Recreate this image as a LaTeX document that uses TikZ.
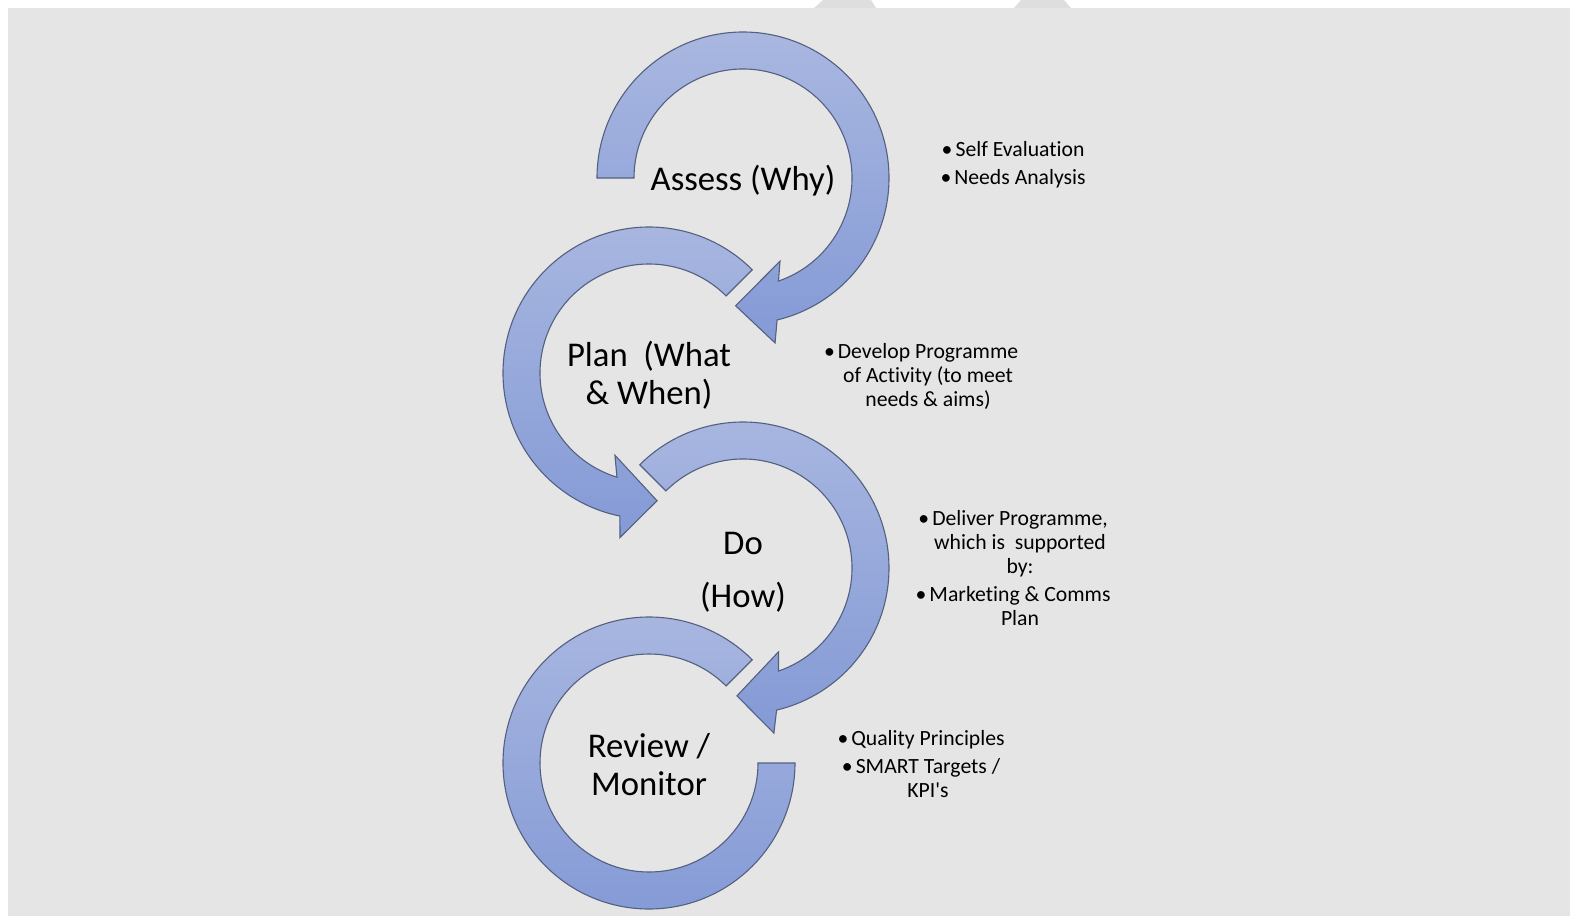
\documentclass[tikz,border=0pt]{standalone}
\usepackage{fontspec}
\setmainfont{Carlito}[Ligatures={NoCommon,TeXOff}]
\definecolor{pagegray}{RGB}{229,229,229}
\definecolor{tabgray}{RGB}{222,222,222}
\definecolor{arrowtop}{RGB}{169,183,224}
\definecolor{arrowbottom}{RGB}{132,154,214}
\definecolor{arrowedge}{RGB}{84,96,128}
\newcommand\itembul{\llap{•\hspace{1.5pt}}}
\begin{document}
\begin{tikzpicture}[x=0.5pt,y=-0.5pt,
  band/.style={draw=arrowedge, line width=0.55pt, line join=miter,
    top color=arrowtop, bottom color=arrowbottom},
  mainlabel/.style={align=center, inner sep=0pt,
    font={\fontsize{17.35}{18.8}\selectfont}},
  notes/.style={align=center, inner sep=0pt,
    font={\fontsize{10.85}{12.0}\selectfont}}]
\useasboundingbox (0,0) rectangle (1570,916);
% page and background panel
\fill[white] (0,0) rectangle (1570,916);
\fill[pagegray] (8,8) rectangle (1570,916);
\fill[tabgray] (814,8) -- (823,0) -- (871,0) -- (876,8) -- cycle;
\fill[tabgray] (1014,8) -- (1021,0) -- (1064,0) -- (1071,8) -- cycle;

% centres of the four rings
\coordinate (c1) at (743,178);
\coordinate (c2) at (649,373);
\coordinate (c3) at (743,568);
\coordinate (c4) at (649,763);

% Assess: clockwise arrow from the left side round to the lower right
\begin{scope}[shift={(c1)}]
\path[band] (180:146) arc[start angle=180,end angle=436.5,radius=146]
  -- (79:168) -- (93.3:128) -- (66:91) -- (71:109)
  arc[start angle=431,end angle=180,radius=109] -- cycle;
\end{scope}

% Plan: anticlockwise arrow from the upper right round to the bottom
\begin{scope}[shift={(c2)}]
\path[band] (-45:146) arc[start angle=-45,end angle=-258.5,radius=146]
  -- (100:167) -- (86.4:128) -- (112.5:89) -- (107.1:109)
  arc[start angle=-252.9,end angle=-45,radius=109] -- cycle;
\end{scope}

% Do: clockwise arrow from the upper left round to the lower right
\begin{scope}[shift={(c3)}]
\path[band] (225:146) arc[start angle=225,end angle=436.7,radius=146]
  -- (79.4:168) -- (92.7:128) -- (67:91) -- (71:109)
  arc[start angle=431,end angle=225,radius=109] -- cycle;
\end{scope}

% Review: open ring with no head
\begin{scope}[shift={(c4)}]
\path[band] (-45:146) arc[start angle=-45,end angle=-360,radius=146]
  -- (0:109) arc[start angle=-360,end angle=-45,radius=109] -- cycle;
\end{scope}

% stage titles
\node[mainlabel] (assess) at (743,181) {Assess (Why)};
\node[mainlabel] (plan) at (649,375.5) {Plan~~(What\\\& When)};
\node[mainlabel] (do) at (743,572) {Do\\[7.5pt](How)};
\node[mainlabel] (review) at (649,764.5) {Review /\\Monitor};

% notes beside each stage
\node[notes] (whynotes) at (1020,165)
  {\itembul Self Evaluation\\[2pt]\itembul Needs Analysis};
\node[notes] (plannotes) at (928,376.5)
  {\itembul Develop Programme\\of Activity (to meet\\needs \& aims)};
\node[notes] (donotes) at (1020,568.5)
  {\itembul Deliver Programme,\\which is~~supported\\by:\\[2pt]\itembul Marketing \& Comms\\Plan};
\node[notes] (reviewnotes) at (928,764)
  {\itembul Quality Principles\\[2pt]\itembul SMART Targets /\\KPI's};
\end{tikzpicture}
\end{document}
